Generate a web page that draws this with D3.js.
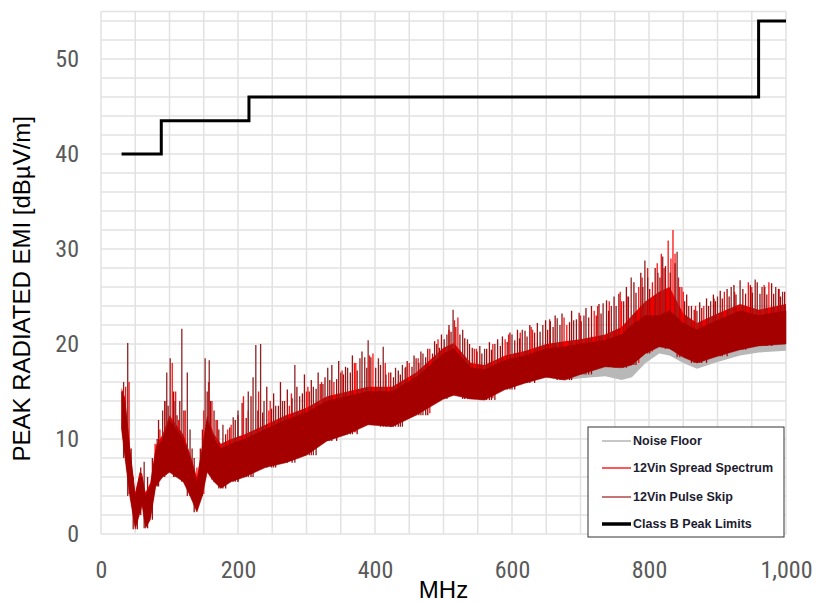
<!DOCTYPE html>
<html lang="en">
<head>
<meta charset="UTF-8"/>
<title>Peak radiated EMI</title>
<script src="https://d3js.org/d3.v7.js"></script>
<style>
  body { margin: 0; background: #fff; }
  .tick text { font-family: "Liberation Sans Narrow", "Arial Narrow", "Roboto Condensed", sans-serif; }
</style>
</head>
<body>
<div id="chart"></div>
<script>
// frequency grid (MHz) for the envelopes of the dense spectrum
const freq   = [30,35,42,50,56,60,65,72,80,90,100,110,120,130,140,148,155,165,175,190,210,240,270,300,330,360,390,425,460,500,515,540,560,590,620,650,677,700,736,760,775,795,815,830,850,870,900,933,960,1000];

// 12Vin Pulse Skip (dark red) band
const psLow  = [11,8,4,0.5,2,3,0.6,1.5,5,6,6.5,6,5.5,4,2.3,4,6.5,5.5,4.8,5.5,6,7,7.5,8.3,9.8,10.5,11.5,11.3,12.5,14.2,14.6,14.2,14.1,15.2,15.9,16.5,16.2,16.8,17.6,17.5,17.8,19,19.7,19.5,18.6,18,18.7,19.4,19.8,20];
const psHigh = [15,14,9,4,6,6,4,5,8.8,10,12,11,10,8,5.5,9,12,10,9,9.5,10,11,12,12.8,14,14.5,15,15,16.5,19,19.5,17.5,17.3,18.3,18.8,19.5,19.7,20,20.4,21,22,23,23,23.5,22.2,21.5,22.5,23.5,23,23.5];

// 12Vin Spread Spectrum (red) band
const ssLow  = [11.2,8.2,4.2,0.7,2.2,3.2,0.8,1.7,5.2,6.2,6.7,6.2,5.7,4.2,2.5,4.2,6.7,5.7,5,5.7,6.2,7.2,7.7,8.5,10,10.7,11.7,11.5,12.7,14.4,14.8,14.4,14.3,15.4,16.1,16.7,16.4,17,17.8,17.7,18,19.2,19.9,19.7,18.8,18.2,18.9,19.6,20,20.2];
const ssHigh = [15.4,14.4,9.4,4.4,6.4,6.4,4.4,5.4,9.3,10.5,12.5,11.5,10.5,8.5,6,9.5,12.5,10.5,9.5,10,10.5,11.5,12.5,13.3,14.5,15,15.5,15.5,17,19.6,20.1,18,17.8,18.8,19.3,20,20.3,20.5,21,21.8,23,24.5,25.5,26,23.2,22.2,23.2,24.2,23.6,24.2];

// Noise Floor (gray) band
const nfLow  = [11.2,8.2,4.2,0.7,2.2,3.2,0.8,1.7,5.2,6.2,6.7,6.2,5.7,4.2,2.5,4.2,6.7,5.7,5,5.7,6.2,7.2,7.7,8.5,10,10.7,11.7,11.5,12.7,14.4,14.8,14.4,14.3,15.4,16.1,16.5,16.2,16.4,16.6,16.2,16.5,18,19,18.8,18,17.4,18.1,18.8,19.1,19.3];
const nfHigh = [12,10,5.5,2,3.5,4.5,2,3,6.5,7.5,8,7.5,7,5.5,3.5,5.5,8,7,6.5,7,7.5,8.5,9,10,11.5,12,13,12.8,14,16,16.5,15.8,15.7,16.8,17.4,18,17.5,18,18.5,18.5,19,20,20.5,20.5,20,19.5,20.3,21,21.3,21.5];

// tall narrow emissions above the band: frequency (MHz) and peak (dBuV/m)
const psSpikeF   = [33,39,63,90,96,101,108,118,126,130,152,158,168,178,193,200,215,222,226,233,238,255,265,283,290,310,320,331,350,360,378,385,390,405,412,430,440,460,470,490,505,514,528,535,560,575,600,615,645,666,690,705,733,745,774,794,813,820,841,858,870,890,900,920,933,955,965,985,995];
const psSpikeTop = [16,20.1,7.6,13,17,18.5,14,21.6,17,11,18.5,18.3,12,11.5,12.3,13,15,16.5,19.9,20,14,13.5,14,17.8,14.5,15.5,15.8,17.5,17,17.5,18.5,18.6,20.4,18.5,19.7,17.5,17.8,18.5,19,20,21,23.6,21.5,20.5,19.5,20,21,21.5,22,22.7,22.5,23,24.3,24,27,28.8,27.5,29.2,29.7,24,23.5,24.5,25,26,26.7,26.8,26,26,25.5];
const ssSpikeF   = [36,41,86,104,113,123,150,162,185,208,230,245,275,300,340,370,397,420,450,480,521,545,590,630,680,720,760,785,805,828,835,848,880,910,945,975];
const ssSpikeTop = [15.5,16,11,18,12,13,13,14,11,14.5,15,13,13.5,15,16,18,19,17,18,19.5,22.8,19.5,20.5,21.5,22,23.5,24.5,26,26.5,30.9,32,26,24,25.5,26.5,26.5];

// shorter emissions that make the ragged top of the band
const psMinorF   = [44,47,53,58,68,75,82,84,93,98,106,111,115,121,133,136,145,148,155,160,165,172,182,188,196,
                    200,206,212,219,229,236,242,249,252,259,262,268,272,279,286,294,297,304,307,314,317,324,327,334,337,344,347,354,357,364,367,374,381,388,394,
                    401,408,416,423,427,434,437,444,447,454,457,464,467,474,477,484,487,494,497,501,508,511,518,524,531,538,542,549,553,556,563,567,570,579,583,586,593,597,
                    604,608,611,619,622,626,633,637,641,649,652,656,660,663,670,673,684,687,694,698,701,708,712,716,723,727,730,738,741,749,752,756,763,767,770,778,781,788,791,798,
                    801,809,816,824,831,838,845,852,855,862,866,874,877,884,887,894,897,904,907,914,917,924,927,937,941,948,951,958,962,969,972,979,982,989,992,998];
const psMinorTop = [9,6,5,7,6,8,10,12,14,13.5,15,12.5,14,13,9,8,9,11,15,14,13,11,10.5,11.2,12,
                    12.5,13.8,12.2,14.5,13,12.8,15.5,13.2,14.8,13.5,16,14,15.2,14.3,15.5,14.8,16.8,15,16.2,15.3,17,15.8,16.5,16.2,17.8,16.3,18.2,16.8,17.6,17,18.8,17.2,19.2,17.5,18.6,
                    17.5,17.8,16.8,17,16.5,17.2,16.8,17.5,18.2,17.6,18.8,18,19.2,18.6,19.5,19,20.3,19.6,21,20.5,22,21.3,21.8,21,20.6,20,19.6,19.2,19.8,19,19.5,20.2,19.4,20.5,19.8,20.8,20.2,21.2,
                    20.4,21.5,20.6,21.4,20.8,22,21.2,22.2,21.3,22.5,21.5,22.4,21.8,23,22,23.2,22.3,23.5,22.6,23.3,22.4,23.8,22.8,24,23,24.2,23.2,24.6,23.5,25,24,25.3,24.5,26,25,26.5,25.4,27.5,26,27,
                    25.8,28,27,28.2,27.5,28.5,26,24.5,25.2,24,23.6,24.4,23.8,24.8,24,25.2,24.5,25.6,24.8,25.8,25,26.2,25.2,25.8,25.3,26.2,25.4,26.5,25.3,26,25.2,26.4,25.3,25.8,25,25.5];
const ssMinorF   = [57,79,95,109,140,157,170,190,215,247,278,302,322,352,372,392,415,445,463,492,508,516,548,572,595,612,628,655,676,700,725,742,758,768,790,798,812,818,822,832,838,843,850,868,895,925,950,968,990];
const ssMinorTop = [6.5,9.5,14,15,7,16,12,11.5,13,14,14.8,15.5,16,17.2,18,18.8,18,17.6,18.5,20.5,21.5,22.5,19.5,20,21,21.2,21.8,22.6,22.8,23,24,24.5,25.5,25,27,28,28.5,29.5,28,29,29.5,27,25.5,24,24.8,25.5,26,26.2,25.8];

// Class B peak limits (step after each frequency)
const limitF = [30,88,216,960,1000];
const limitV = [40,43.5,46,54,54];

const xTicks = [0,200,400,600,800,1000];
const yTicks = [0,10,20,30,40,50];

const legendNames = ["Noise Floor","12Vin Spread Spectrum","12Vin Pulse Skip","Class B Peak Limits"];

const W = 816, H = 602;
const margin = {top: 11.5, right: 30, bottom: 68, left: 101};
const width = W - margin.left - margin.right,
      height = H - margin.top - margin.bottom;

const svg = d3.select("#chart")
  .append("svg")
    .attr("width", W)
    .attr("height", H)
  .append("g")
    .attr("transform", `translate(${margin.left},${margin.top})`);

const x = d3.scaleLinear().domain([0, 1000]).range([0, width]);
const y = d3.scaleLinear().domain([0, 55]).range([height, 0]);

// grid: every 50 MHz and every 2 dB
svg.append("g")
  .selectAll("line")
  .data(d3.range(0, 1001, 50))
  .join("line")
    .attr("x1", d => x(d)).attr("x2", d => x(d))
    .attr("y1", 0).attr("y2", height)
    .attr("stroke", "#e2e2e2").attr("stroke-width", 1.5);
svg.append("g")
  .selectAll("line")
  .data(d3.range(0, 55, 2).concat([55]))
  .join("line")
    .attr("x1", 0).attr("x2", width)
    .attr("y1", d => y(d)).attr("y2", d => y(d))
    .attr("stroke", "#e2e2e2").attr("stroke-width", 1.5);

// axes (labels only)
const xAxis = svg.append("g")
  .attr("transform", `translate(0,${height})`)
  .call(d3.axisBottom(x).tickValues(xTicks).tickFormat(d3.format(",")).tickSize(0).tickPadding(27));
const yAxis = svg.append("g")
  .call(d3.axisLeft(y).tickValues(yTicks).tickSize(0).tickPadding(22));
[xAxis, yAxis].forEach(a => {
  a.select(".domain").remove();
  a.selectAll("text").attr("font-size", 24).attr("fill", "#595959");
});

svg.append("text")
  .attr("x", width / 2)
  .attr("y", height + 64)
  .attr("text-anchor", "middle")
  .attr("font-family", "'Liberation Sans Narrow', 'Arial Narrow', sans-serif")
  .attr("font-size", 24)
  .attr("fill", "#000")
  .text("MHz");

svg.append("text")
  .attr("transform", `translate(${22 - margin.left},${height / 2 + 16}) rotate(-90)`)
  .attr("text-anchor", "middle")
  .attr("dy", "0.35em")
  .attr("font-family", "'Liberation Sans Narrow', 'Arial Narrow', sans-serif")
  .attr("font-size", 24)
  .attr("fill", "#000")
  .text("PEAK RADIATED EMI [dBµV/m]");

// spikes go first so that only the part above the band shows
const nearest = (f, arr) => arr[d3.leastIndex(freq, (a, b) => Math.abs(a - f) - Math.abs(b - f))];
function spikes(fs, tops, lows, color, w) {
  svg.append("g")
    .selectAll("line")
    .data(d3.zip(fs, tops))
    .join("line")
      .attr("x1", d => x(d[0])).attr("x2", d => x(d[0]))
      .attr("y1", d => y(nearest(d[0], lows)))
      .attr("y2", d => y(d[1]))
      .attr("stroke", color).attr("stroke-width", w);
}

// bands
const band = (lo, hi) => d3.area()
  .x((d, i) => x(freq[i]))
  .y0((d, i) => y(lo[i]))
  .y1((d, i) => y(hi[i]));

svg.append("path").datum(freq).attr("d", band(nfLow, nfHigh)).attr("fill", "#b8b8b8");
spikes(ssMinorF, ssMinorTop, ssLow, "#ff1010", 1.3);
spikes(ssSpikeF, ssSpikeTop, ssLow, "#ff1010", 1.3);
svg.append("path").datum(freq).attr("d", band(ssLow, ssHigh)).attr("fill", "#ee0000");
spikes(psMinorF, psMinorTop, psLow, "#9a1010", 1.3);
spikes(psSpikeF, psSpikeTop, psLow, "#8c2424", 1.3);
svg.append("path").datum(freq).attr("d", band(psLow, psHigh)).attr("fill", "#a40000")
  .attr("stroke", "#a40000").attr("stroke-width", 0.5);

// Class B limit
svg.append("path")
  .datum(d3.zip(limitF, limitV))
  .attr("d", d3.line().x(d => x(d[0])).y(d => y(d[1])).curve(d3.curveStepAfter))
  .attr("fill", "none")
  .attr("stroke", "#000")
  .attr("stroke-width", 3);

// legend
const legendColor = ["#b4b4b4", "#ff2020", "#b04848", "#000"];
const legendWidth = [1.5, 1.5, 1.5, 3.5];
const lg = svg.append("g").attr("transform", `translate(${588 - margin.left},${427 - margin.top})`);
lg.append("rect")
  .attr("width", 196).attr("height", 110)
  .attr("fill", "#fff").attr("stroke", "#333").attr("stroke-width", 1);
const rows = lg.selectAll("g.row")
  .data(legendNames)
  .join("g")
    .attr("class", "row")
    .attr("transform", (d, i) => `translate(0,${[14, 41, 70, 97][i]})`);
rows.append("line")
  .attr("x1", 14).attr("x2", 43)
  .attr("stroke", (d, i) => legendColor[i])
  .attr("stroke-width", (d, i) => legendWidth[i]);
rows.append("text")
  .attr("x", 45)
  .attr("dy", "0.35em")
  .attr("font-family", "'Liberation Sans', sans-serif")
  .attr("font-size", 12.5)
  .attr("font-weight", "bold")
  .attr("fill", "#1c1c30")
  .text(d => d);
</script>
</body>
</html>
